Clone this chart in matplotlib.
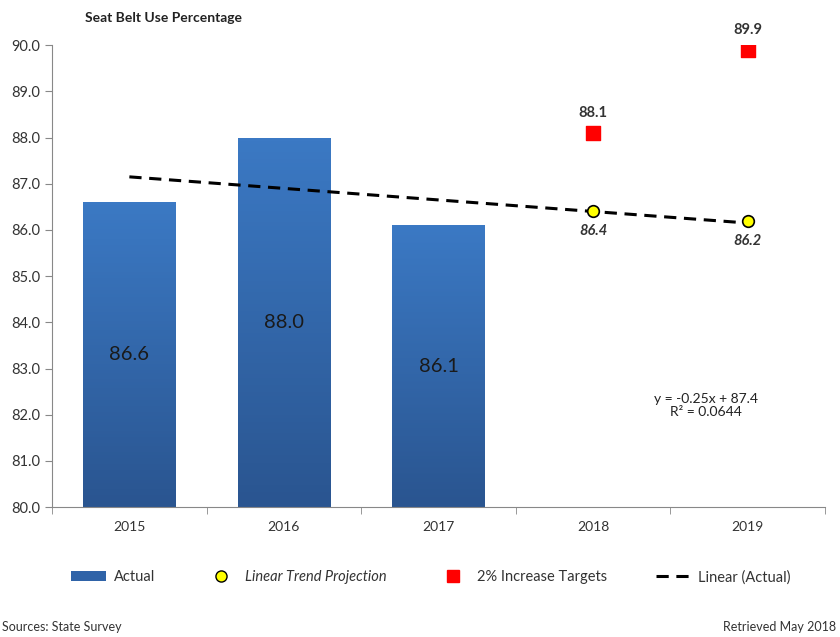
import numpy as np
import matplotlib
matplotlib.use('Agg')
import matplotlib.pyplot as plt
from matplotlib.colors import LinearSegmentedColormap
from matplotlib.lines import Line2D
from matplotlib.patches import Patch

plt.rcParams['font.family'] = ['Lato', 'DejaVu Sans']

years = ['2015', '2016', '2017', '2018', '2019']
actual = [86.6, 88.0, 86.1]
proj_years = [3, 4]
projection = [86.4, 86.2]
targets = [88.1, 89.9]
slope, intercept = -0.25, 87.4

fig = plt.figure(figsize=(8.4, 6.37), dpi=100)
ax = fig.add_axes([0.062, 0.204, 0.92, 0.725])

x = np.arange(len(years))
bars = ax.bar(x[:3], actual, width=0.6, bottom=0, color='none', zorder=2)

# vertical gradient fill on each bar
grad = LinearSegmentedColormap.from_list('g', ['#2a5590', '#3b79c4'])
for b in bars:
    bx, bw, bh = b.get_x(), b.get_width(), b.get_height()
    im = ax.imshow(np.linspace(0, 1, 100).reshape(-1, 1), cmap=grad, origin='lower',
                   extent=[bx, bx + bw, 80, bh], aspect='auto', zorder=2)
    im.set_clip_path(b)
    ax.text(bx + bw / 2, (80 + bh) / 2, f'{bh:.1f}', ha='center', va='center',
            fontsize=14.5, color='#1a1a1a', zorder=4)

# linear trend of actual values
tx = np.array([0, 4])
ax.plot(tx, slope * (tx + 1) + intercept, ls=(0, (4, 2.5)), color='black', lw=2.2, zorder=3)

ax.scatter(proj_years, projection, s=70, color='#ffff00', edgecolor='black', lw=1.2, zorder=5)
for px, py in zip(proj_years, projection):
    ax.text(px, py - 0.28, f'{py:.1f}', ha='center', va='top', fontsize=10.5,
            style='italic', fontweight='bold', color='#333333')

ax.scatter(proj_years, targets, s=110, marker='s', color='#ff0000', zorder=5)
for px, py in zip(proj_years, targets):
    ax.text(px, py + 0.28, f'{py:.1f}', ha='center', va='bottom', fontsize=10.5,
            fontweight='bold', color='#333333')

ax.text(3.73, 82.2, f'y = {slope}x + {intercept}\nR² = 0.0644', ha='center', va='center',
        fontsize=10, color='#222222', linespacing=1.15)

ax.set_xlim(-0.5, 4.5)
ax.set_ylim(80, 90)
ax.set_yticks(np.arange(80, 90.1, 1))
ax.set_yticklabels([f'{v:.1f}' for v in np.arange(80, 90.1, 1)], fontsize=10.5, color='#333333')
ax.set_xticks(x)
ax.set_xticklabels(years, fontsize=10, color='#333333')
ax.tick_params(axis='x', length=0, pad=10)
ax.set_xticks(np.arange(-0.5, 4.6, 1), minor=True)
ax.tick_params(axis='x', which='minor', length=5, color='#888888')
ax.tick_params(axis='y', length=5, color='#888888')
for s in ['top', 'right']:
    ax.spines[s].set_visible(False)
for s in ['left', 'bottom']:
    ax.spines[s].set_color('#888888')

handles = [
    Patch(facecolor='#2f63a8', label='Actual'),
    Line2D([], [], ls='none', marker='o', markersize=8, markerfacecolor='#ffff00',
           markeredgecolor='black', label='Linear Trend Projection'),
    Line2D([], [], ls='none', marker='s', markersize=9, color='#ff0000', label='2% Increase Targets'),
    Line2D([], [], ls=(0, (4, 2.5)), lw=2.2, color='black', label='Linear (Actual)'),
]
leg = fig.legend(handles=handles, loc='center', bbox_to_anchor=(0.513, 0.094), ncol=4,
                 frameon=False, fontsize=10.5, columnspacing=3.3, handlelength=2.4,
                 handletextpad=0.5)
leg.get_texts()[1].set_style('italic')
for t in leg.get_texts():
    t.set_color('#333333')

fig.text(0.195, 0.972, 'Seat Belt Use Percentage', ha='center', va='center',
         fontsize=10, fontweight='bold', color='#222222')
fig.text(0.002, 0.015, 'Sources: State Survey', ha='left', va='center', fontsize=9, color='#333333')
fig.text(0.995, 0.015, 'Retrieved May 2018', ha='right', va='center', fontsize=9, color='#333333')

fig.savefig('out.png', dpi=100)
